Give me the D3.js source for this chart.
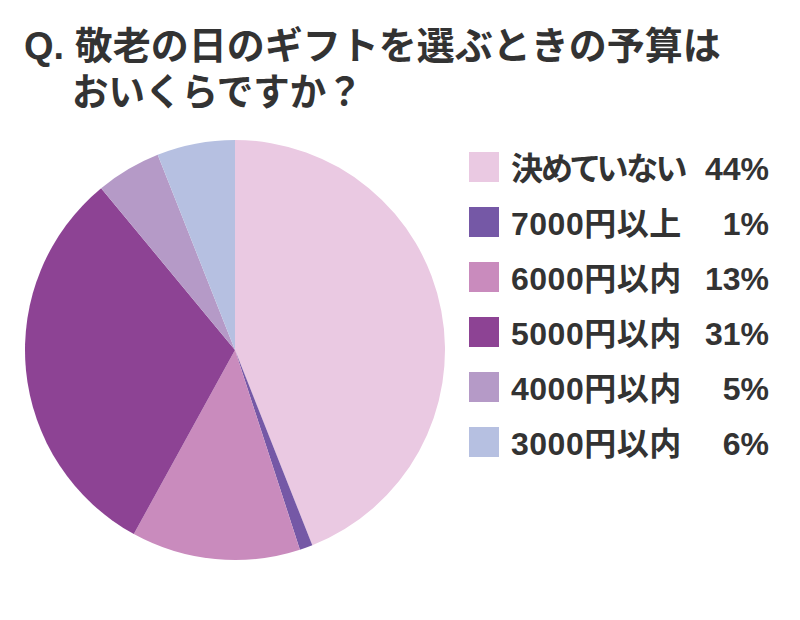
<!DOCTYPE html>
<html>
<head>
<meta charset="utf-8">
<script src="https://cdn.jsdelivr.net/npm/d3@7"></script>
<style>
  body { margin: 0; background: #fff; }
  text { font-family: "Liberation Sans", "Noto Sans CJK JP", sans-serif; font-weight: bold; fill: #333; }
  .legend text { font-feature-settings: "palt"; }
</style>
</head>
<body>
<script>
// data
var titleLines = ["Q. 敬老の日のギフトを選ぶときの予算は", "おいくらですか？"];
var categories = ["決めていない", "7000円以上", "6000円以内", "5000円以内", "4000円以内", "3000円以内"];
var values = [44, 1, 13, 31, 5, 6];
var colors = ["#eac9e2", "#7558a6", "#c98bbd", "#8d4394", "#b59ac7", "#b6c0e1"];

var width = 800, height = 620;

var svg = d3.select("body").append("svg")
    .attr("width", width)
    .attr("height", height);

// title
svg.append("text")
    .attr("transform", "translate(24,59)")
    .attr("font-size", 38)
    .text(titleLines[0]);
svg.append("text")
    .attr("transform", "translate(72,105) scale(0.96,1)")
    .attr("font-size", 38)
    .text(titleLines[1]);

var data = categories.map(function(c, i) {
  return {name: c, value: values[i], color: colors[i]};
});

// pie, starts at 12 o'clock and goes clockwise
var radius = 210;
var pie = d3.pie()
    .sort(null)
    .value(function(d) { return d.value; });
var arc = d3.arc()
    .innerRadius(0)
    .outerRadius(radius);

var g = svg.append("g")
    .attr("transform", "translate(235,350)");

g.selectAll("path")
    .data(pie(data))
  .enter().append("path")
    .attr("d", arc)
    .attr("fill", function(d) { return d.data.color; });

// legend
var y = d3.scaleBand()
    .domain(categories)
    .range([139.5, 469.5])
    .paddingInner(0);

var legend = svg.append("g").attr("class", "legend");
var row = legend.selectAll("g")
    .data(data)
  .enter().append("g")
    .attr("transform", function(d) { return "translate(0," + (y(d.name) + y.bandwidth() / 2) + ")"; });

row.append("rect")
    .attr("x", 469)
    .attr("y", -15)
    .attr("width", 30)
    .attr("height", 30)
    .attr("fill", function(d) { return d.color; });

// kana-only labels are set tighter in the original
row.append("text")
    .attr("x", 511)
    .attr("y", 12.5)
    .attr("font-size", 32)
    .attr("letter-spacing", function(d) { return /\d/.test(d.name) ? 0.5 : -2; })
    .text(function(d) { return d.name; });

row.append("text")
    .attr("x", 769)
    .attr("y", 12.5)
    .attr("font-size", 32)
    .attr("text-anchor", "end")
    .text(function(d) { return d.value + "%"; });
</script>
</body>
</html>
